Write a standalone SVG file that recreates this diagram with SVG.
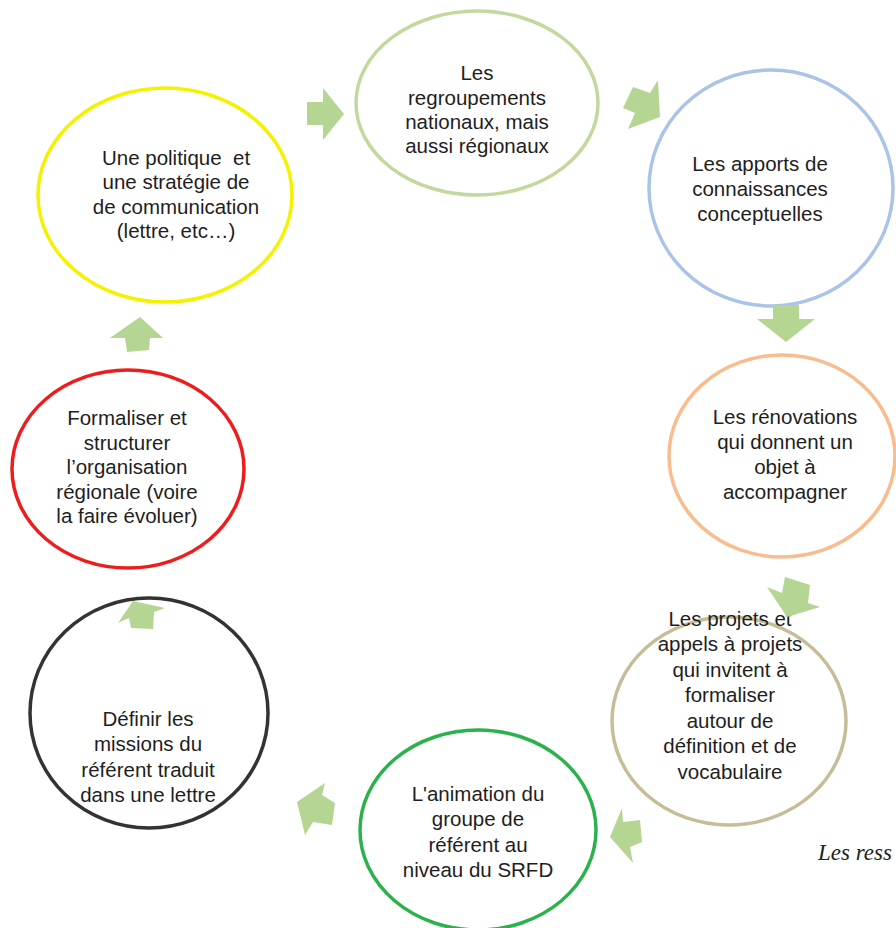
<svg xmlns="http://www.w3.org/2000/svg" width="896" height="928" viewBox="0 0 896 928">
<style>
.e{fill:none;stroke-width:3.5}
.t{font-family:"Liberation Sans",Arial,sans-serif;font-size:20.5px;fill:#1e1e1e;text-anchor:middle}
.a{fill:#b5d593}
</style>
<rect width="896" height="928" fill="#fff"/>
<g id="n1"><ellipse class="e" cx="477" cy="103" rx="121" ry="92" stroke="#c3d89e"/>
<text class="t"><tspan x="477" y="80">Les</tspan><tspan x="477" y="105">regroupements</tspan><tspan x="477" y="129">nationaux, mais</tspan><tspan x="477" y="153">aussi régionaux</tspan></text></g>
<g id="n2"><ellipse class="e" cx="771" cy="188" rx="122" ry="118" stroke="#a9c4e6"/>
<text class="t"><tspan x="760" y="171">Les apports de</tspan><tspan x="760" y="196">connaissances</tspan><tspan x="760" y="221">conceptuelles</tspan></text></g>
<g id="n3"><ellipse class="e" cx="782" cy="456" rx="113" ry="101" stroke="#f9bc8f"/>
<text class="t"><tspan x="785" y="424">Les rénovations</tspan><tspan x="785" y="449">qui donnent un</tspan><tspan x="785" y="474">objet à</tspan><tspan x="785" y="499">accompagner</tspan></text></g>
<g id="n4"><ellipse class="e" cx="729" cy="721" rx="117" ry="104" stroke="#c6bd98"/>
<text class="t"><tspan x="730" y="626">Les projets et</tspan><tspan x="730" y="651">appels à projets</tspan><tspan x="730" y="677">qui invitent à</tspan><tspan x="730" y="702">formaliser</tspan><tspan x="730" y="728">autour de</tspan><tspan x="730" y="753">définition et de</tspan><tspan x="730" y="779">vocabulaire</tspan></text></g>
<g id="n5"><ellipse class="e" cx="478" cy="830" rx="118" ry="100" stroke="#2bb24c"/>
<text class="t"><tspan x="478" y="801">L'animation du</tspan><tspan x="478" y="826">groupe de</tspan><tspan x="478" y="852">référent au</tspan><tspan x="478" y="877">niveau du SRFD</tspan></text></g>
<g id="n6"><ellipse class="e" cx="149" cy="713" rx="119" ry="115" stroke="#333"/>
<text class="t"><tspan x="148" y="726">Définir les</tspan><tspan x="148" y="751">missions du</tspan><tspan x="148" y="777">référent traduit</tspan><tspan x="148" y="802">dans une lettre</tspan></text></g>
<g id="n7"><ellipse class="e" cx="128" cy="469" rx="116" ry="99" stroke="#ee1c1c"/>
<text class="t"><tspan x="127" y="425">Formaliser et</tspan><tspan x="127" y="450">structurer</tspan><tspan x="127" y="474">l’organisation</tspan><tspan x="127" y="499">régionale (voire</tspan><tspan x="127" y="523">la faire évoluer)</tspan></text></g>
<g id="n8"><ellipse class="e" cx="165" cy="195" rx="127" ry="107" stroke="#f5f200"/>
<text class="t"><tspan x="176" y="165">Une politique&#160; et</tspan><tspan x="176" y="189">une stratégie de</tspan><tspan x="176" y="214">de communication</tspan><tspan x="176" y="238">(lettre, etc…)</tspan></text></g>
<g id="connectors">
<polygon class="a" points="307,102 323,102 323,88 344,114 323,140 323,125 307,125"/>
<polygon class="a" points="658,80 660,117 628,129 635,113 623,108 633,87 650,93"/>
<polygon class="a" points="773,305 799,305 799,319 815,319 786,342 757,319 773,319"/>
<polygon class="a" points="785,577 810,585 808,603 820,607 787,617 767,587 782,593"/>
<polygon class="a" points="622,808 623,822 640,820 642,842 630,847 633,863 610,837"/>
<polygon class="a" points="325,783 322,795 335,803 332,825 313,822 305,835 297,802"/>
<polygon class="a" points="133,601 165,608 154,612 153,629 131,628 129,618 118,623"/>
<polygon class="a" points="140,317 163,338 150,338 149,350 127,352 125,338 110,338"/>
</g>
<text x="818" y="860" font-family="'Liberation Serif',serif" font-style="italic" font-size="23" fill="#222">Les ress</text>
</svg>
